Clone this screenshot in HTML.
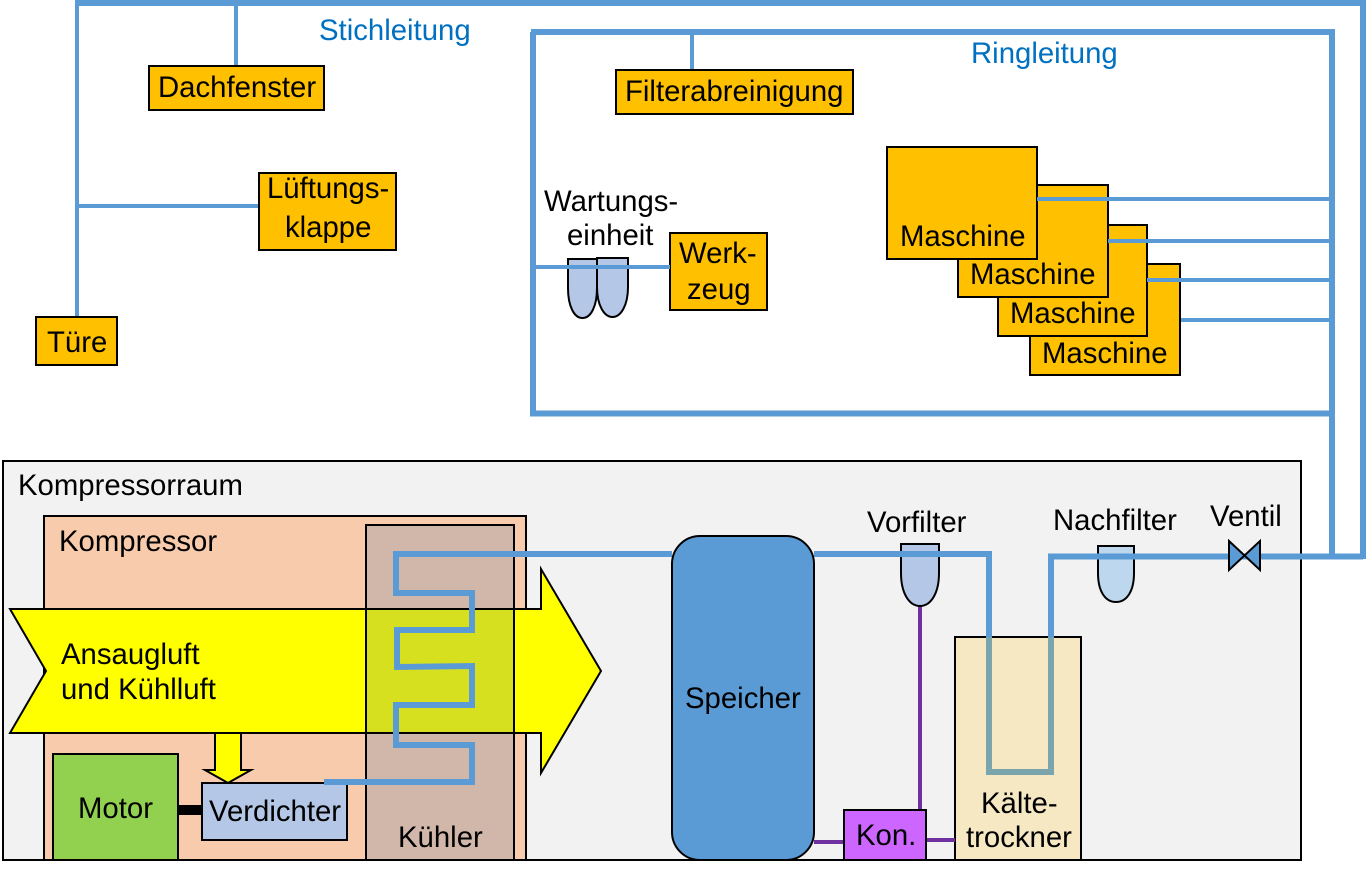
<!DOCTYPE html>
<html>
<head>
<meta charset="utf-8">
<style>
html,body{margin:0;padding:0;background:#fff;width:1370px;height:872px;overflow:hidden}
svg{display:block}
text{font-family:"Liberation Sans",sans-serif;font-size:29.33px;fill:#000}
.b{fill:#0070c0}
.box{stroke:#000;stroke-width:2}
.p{fill:none;stroke:#5b9bd5;stroke-linejoin:miter}
</style>
</head>
<body>
<svg width="1370" height="872" viewBox="0 0 1370 872" xmlns="http://www.w3.org/2000/svg">
<!-- top network -->
<path class="p" stroke-width="6" d="M75 3H1363V559"/>
<path class="p" stroke-width="4" d="M77 3V317M236 3V66M77 206H259"/>
<path class="p" stroke-width="6" d="M531 32H1332V556M533 32V413.500H1332"/>
<path class="p" stroke-width="4" d="M692 33V70"/>
<rect class="box" x="149" y="66" width="175" height="44" fill="#ffc000"/>
<rect class="box" x="259" y="173" width="137" height="77" fill="#ffc000"/>
<rect class="box" x="36" y="317" width="81" height="48" fill="#ffc000"/>
<rect class="box" x="616" y="70" width="237" height="44" fill="#ffc000"/>
<rect class="box" x="670" y="233" width="97" height="77" fill="#ffc000"/>
<rect class="box" x="1030" y="264" width="150" height="111" fill="#ffc000"/>
<rect class="box" x="998" y="225" width="149" height="111" fill="#ffc000"/>
<rect class="box" x="958" y="185" width="150" height="112" fill="#ffc000"/>
<rect class="box" x="887" y="147" width="150" height="112" fill="#ffc000"/>
<path class="p" stroke-width="4" d="M1037 199H1332M1108 241H1332M1147 280H1332M1181 320H1332"/>
<path class="box" fill="#b4c7e7" d="M568 259H597V288C597 306 591 318 582.500 318C574 318 568 306 568 288Z"/>
<path class="box" fill="#b4c7e7" d="M597 258H628V287C628 305 621 317 612.500 317C604 317 597 305 597 287Z"/>
<path class="p" stroke-width="4" d="M533 267H670"/>

<text class="b" x="319" y="40">Stichleitung</text>
<text class="b" x="971" y="63">Ringleitung</text>
<text x="158" y="97">Dachfenster</text>
<text x="267" y="198">Lüftungs-</text>
<text x="285" y="237">klappe</text>
<text x="47" y="352">Türe</text>
<text x="625" y="101">Filterabreinigung</text>
<text x="544" y="211">Wartungs-</text>
<text x="567" y="245">einheit</text>
<text x="679" y="263">Werk-</text>
<text x="687" y="299">zeug</text>
<text x="900" y="246">Maschine</text>
<text x="970" y="284">Maschine</text>
<text x="1010" y="323">Maschine</text>
<text x="1042" y="363">Maschine</text>

<!-- room -->
<rect class="box" x="3" y="461" width="1298" height="399" fill="#f2f2f2"/>
<text x="18" y="495">Kompressorraum</text>
<rect class="box" x="44" y="516" width="482" height="344" fill="#f8cbad"/>
<rect class="box" x="366" y="525" width="148" height="335" fill="#d0b7aa"/>
<text x="59" y="551">Kompressor</text>
<text x="398" y="847">Kühler</text>
<!-- big arrow -->
<path class="box" fill="#ffff00" d="M10 609H541V569L601 671L541 773V733H10L46 671Z"/>
<rect x="366" y="609" width="148" height="124" fill="#d6e01e" stroke="#000" stroke-width="2"/>
<text x="61" y="664">Ansaugluft</text>
<text x="61" y="699">und Kühlluft</text>
<!-- motor etc -->
<rect class="box" x="53" y="754" width="125" height="106" fill="#92d050"/>
<text x="78" y="818">Motor</text>
<rect x="178" y="805" width="24" height="10" fill="#000"/>
<path class="box" fill="#ffff00" d="M215 733H241V770H251L228 783L205 770H215Z"/>
<rect class="box" x="202" y="783" width="145" height="57" fill="#b4c7e7"/>
<text x="209" y="821">Verdichter</text>
<!-- coil -->
<path class="p" stroke-width="6" d="M672 554H396V593H472V630H397V667L472 666V705H396V745H472V782H324"/>
<!-- speicher -->
<rect class="box" x="672" y="536" width="142" height="324" rx="28" fill="#5b9bd5"/>
<text x="685" y="708">Speicher</text>
<!-- dryer -->
<rect class="box" x="955" y="637" width="126" height="223" fill="#f6e8c3"/>
<text x="981" y="813">Kälte-</text>
<text x="966" y="847">trockner</text>
<!-- purple -->
<path fill="none" stroke="#7030a0" stroke-width="4" d="M920 606V810M814 842H844M926 840H955"/>
<rect class="box" x="844" y="810" width="82" height="50" fill="#cc66ff"/>
<text x="856" y="845">Kon.</text>
<!-- filters -->
<path class="box" fill="#b4c7e7" d="M901 544H939V573C939 593 931 606 920 606C909 606 901 593 901 573Z"/>
<path class="box" fill="#bdd7ee" d="M1098 546H1134V573C1134 591 1127 602 1116 602C1105 602 1098 591 1098 573Z"/>
<!-- pipe out -->
<path class="p" stroke-width="6" d="M814 554H989V637M1051 637V556.500H1363"/>
<path fill="none" stroke="#7ba5ac" stroke-width="6" d="M989 637V772H1051V637"/>
<!-- valve -->
<path class="box" fill="#5b9bd5" d="M1229 541L1260 570V541L1229 570Z"/>
<text x="867" y="532">Vorfilter</text>
<text x="1053" y="530">Nachfilter</text>
<text x="1210" y="526">Ventil</text>
</svg>
</body>
</html>
